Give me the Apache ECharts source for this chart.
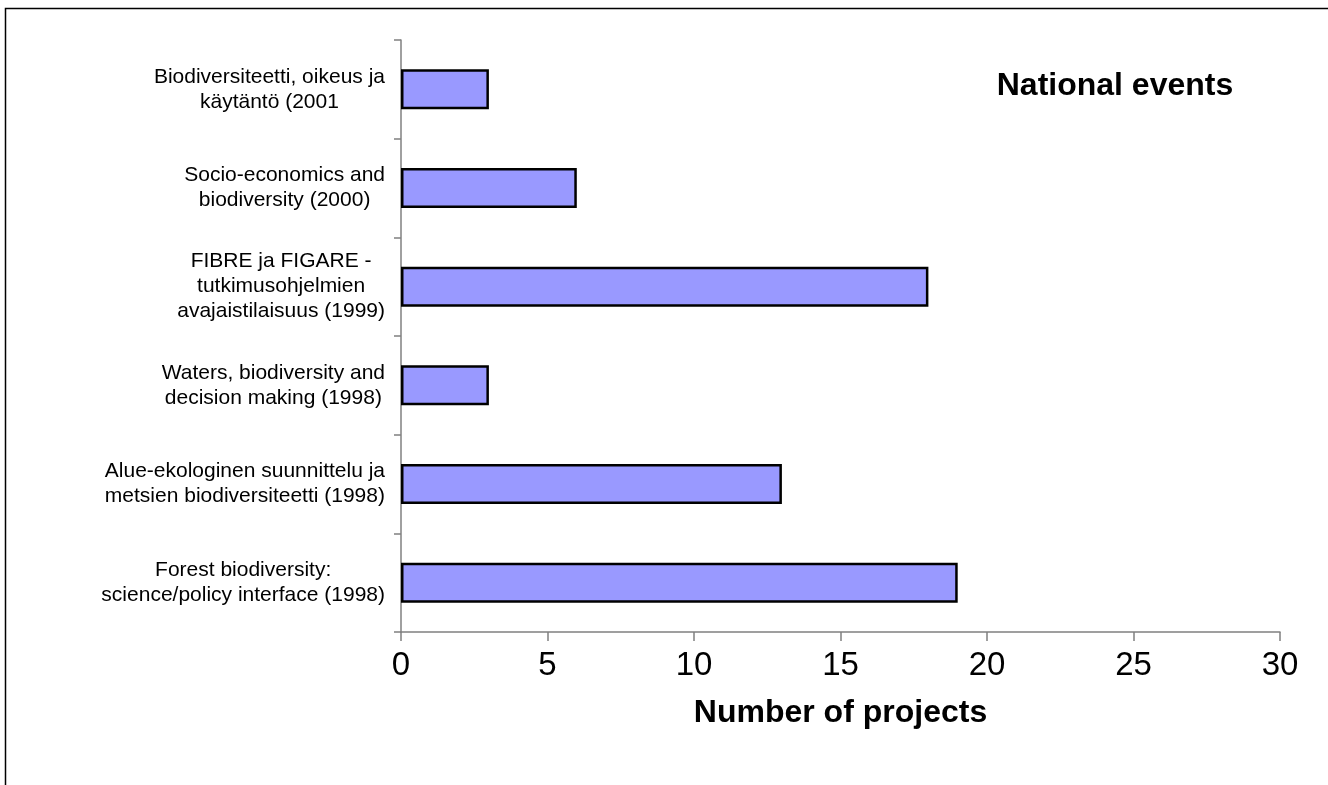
<!DOCTYPE html>
<html>
<head>
<meta charset="utf-8">
<script src="https://cdn.jsdelivr.net/npm/echarts@6/dist/echarts.min.js"></script>
<style>
html,body{margin:0;padding:0;background:#fff;}
#c{width:1328px;height:785px;}
</style>
</head>
<body>
<div id="c"></div>
<script>
const categories = [
  "Biodiversiteetti, oikeus ja\nkäytäntö (2001",
  "Socio-economics and\nbiodiversity (2000)",
  "FIBRE ja FIGARE -\ntutkimusohjelmien\navajaistilaisuus (1999)",
  "Waters, biodiversity and\ndecision making (1998)",
  "Alue-ekologinen suunnittelu ja\nmetsien biodiversiteetti (1998)",
  "Forest biodiversity:\nscience/policy interface (1998)"
];
const projects = [3, 6, 18, 3, 13, 19];
const xTicks = { min: 0, max: 30, interval: 5 };
const chartTitle = "National events";
const xAxisTitle = "Number of projects";

const FONT = "Liberation Sans, Arial, sans-serif";
const chart = echarts.init(document.getElementById('c'), null, {renderer: 'canvas'});
chart.setOption({
  animation: false,
  backgroundColor: '#fff',
  graphic: [{
    type: 'rect', left: 3, top: 6,
    shape: {x: 0, y: 0, width: 1400, height: 900},
    style: {fill: 'none', stroke: '#000', lineWidth: 1.5},
    silent: true
  }],
  title: {
    text: chartTitle, left: 1110, top: 65, textAlign: 'center',
    textStyle: {fontFamily: FONT, fontSize: 32, fontWeight: 'bold', color: '#000'}
  },
  grid: {left: 401, right: 48, top: 40, bottom: 153, containLabel: false},
  xAxis: {
    type: 'value', min: xTicks.min, max: xTicks.max, interval: xTicks.interval,
    name: xAxisTitle, nameLocation: 'middle', nameGap: 65,
    nameTextStyle: {fontFamily: FONT, fontSize: 32, fontWeight: 'bold', color: '#000'},
    axisLine: {show: true, lineStyle: {color: '#808080', width: 1.5}},
    axisTick: {show: true, inside: false, length: 9, lineStyle: {color: '#808080', width: 1.5}},
    axisLabel: {fontFamily: FONT, fontSize: 33, color: '#000', margin: 17},
    splitLine: {show: false}
  },
  yAxis: {
    type: 'category', data: categories, inverse: true,
    axisLine: {show: true, lineStyle: {color: '#808080', width: 1.5}},
    axisTick: {show: true, inside: false, length: 7, alignWithLabel: false, lineStyle: {color: '#808080', width: 1.5}},
    axisLabel: {
      margin: 16, align: 'right',
      formatter: v => v.split('\n').map(l => '{c|' + l + '}').join('\n'),
      rich: {c: {align: 'center', fontFamily: FONT, fontSize: 21, lineHeight: 25, color: '#000'}}
    },
    splitLine: {show: false}
  },
  series: [{
    type: 'bar', data: projects, barWidth: 40,
    itemStyle: {color: '#9999FF', borderColor: '#000', borderWidth: 2.5}
  }]
});
</script>
</body>
</html>
